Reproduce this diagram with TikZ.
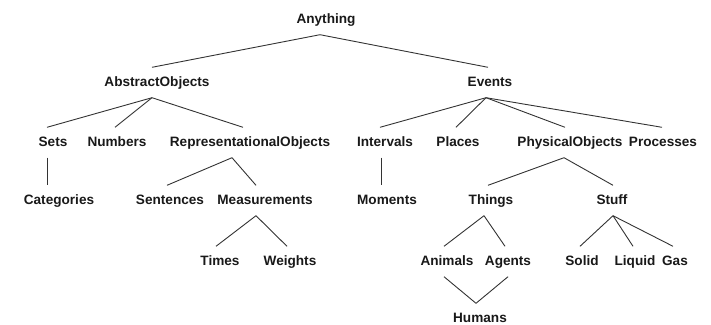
\documentclass[tikz,border=0pt]{standalone}
\usepackage{fontspec}
\setmainfont{Liberation Sans}
\begin{document}
\begin{tikzpicture}[x=1pt,y=-1pt,
  lbl/.style={anchor=base, inner xsep=0pt, inner ysep=8.5pt, text height=10pt, text depth=3pt,
              font=\fontsize{13.6}{16}\selectfont\bfseries, text=black!90},
  edge/.style={draw=black!80, line width=0.9pt}]
\useasboundingbox (0,0) rectangle (711,324);
% row 0
\node[lbl] (Anything) at (326,23) {Anything};
% row 1
\node[lbl] (AbstractObjects) at (157,86) {AbstractObjects};
\node[lbl] (Events) at (490,86) {Events};
% row 2
\node[lbl] (Sets) at (53,146) {Sets};
\node[lbl] (Numbers) at (117,146) {Numbers};
\node[lbl] (RepObj) at (250,146) {RepresentationalObjects};
\node[lbl] (Intervals) at (385,146) {Intervals};
\node[lbl] (Places) at (458,146) {Places};
\node[lbl] (PhysObj) at (570,146) {PhysicalObjects};
\node[lbl] (Processes) at (663,146) {Processes};
% row 3
\node[lbl] (Categories) at (59,204) {Categories};
\node[lbl] (Sentences) at (170,204) {Sentences};
\node[lbl] (Measurements) at (265,204) {Measurements};
\node[lbl] (Moments) at (387,204) {Moments};
\node[lbl] (Things) at (491,204) {Things};
\node[lbl] (Stuff) at (612,204) {Stuff};
% row 4
\node[lbl] (Times) at (220,265) {Times};
\node[lbl] (Weights) at (290,265) {Weights};
\node[lbl] (Animals) at (447,265) {Animals};
\node[lbl] (Agents) at (508,265) {Agents};
\node[lbl] (Solid) at (582,265) {Solid};
\node[lbl] (Liquid) at (635,265) {Liquid};
\node[lbl] (Gas) at (675,265) {Gas};
% row 5
\node[lbl] (Humans) at (480,322) {Humans};
% connectors
\draw[edge] ([xshift=-6pt]Anything.south) -- ([xshift=-5pt]AbstractObjects.north);
\draw[edge] ([xshift=-6pt]Anything.south) -- ([xshift=-2pt]Events.north);
\draw[edge] ([xshift=-5pt]AbstractObjects.south) -- ([xshift=-6pt]Sets.north);
\draw[edge] ([xshift=-5pt]AbstractObjects.south) -- ([xshift=-2pt]Numbers.north);
\draw[edge] ([xshift=-5pt]AbstractObjects.south) -- ([xshift=-7pt]RepObj.north);
\draw[edge] ([xshift=-4pt]Events.south) -- ([xshift=-5pt]Intervals.north);
\draw[edge] ([xshift=-4pt]Events.south) -- ([xshift=-2pt]Places.north);
\draw[edge] ([xshift=-4pt]Events.south) -- ([xshift=-5pt]PhysObj.north);
\draw[edge] ([xshift=-4pt]Events.south) -- ([xshift=-1pt]Processes.north);
\draw[edge] ([xshift=-6pt]Sets.south) -- ([xshift=-12pt]Categories.north);
\draw[edge] ([xshift=-18pt]RepObj.south) -- ([xshift=-3pt]Sentences.north);
\draw[edge] ([xshift=-18pt]RepObj.south) -- ([xshift=-9pt]Measurements.north);
\draw[edge] ([xshift=-4pt]Intervals.south) -- ([xshift=-6pt]Moments.north);
\draw[edge] ([xshift=-6pt]PhysObj.south) -- ([xshift=-3pt]Things.north);
\draw[edge] ([xshift=-6pt]PhysObj.south) -- ([xshift=1pt]Stuff.north);
\draw[edge] ([xshift=-9pt]Measurements.south) -- ([xshift=-4pt]Times.north);
\draw[edge] ([xshift=-9pt]Measurements.south) -- ([xshift=-3pt]Weights.north);
\draw[edge] ([xshift=-7pt]Things.south) -- ([xshift=-3pt]Animals.north);
\draw[edge] ([xshift=-7pt]Things.south) -- ([xshift=-3pt]Agents.north);
\draw[edge] ([xshift=1pt]Stuff.south) -- ([xshift=-2pt]Solid.north);
\draw[edge] ([xshift=1pt]Stuff.south) -- ([xshift=-2pt]Liquid.north);
\draw[edge] ([xshift=1pt]Stuff.south) -- ([xshift=-2pt]Gas.north);
\draw[edge] ([xshift=-3pt]Animals.south) -- ([xshift=-4pt]Humans.north);
\draw[edge] (Agents.south) -- ([xshift=-4pt]Humans.north);
\end{tikzpicture}
\end{document}
